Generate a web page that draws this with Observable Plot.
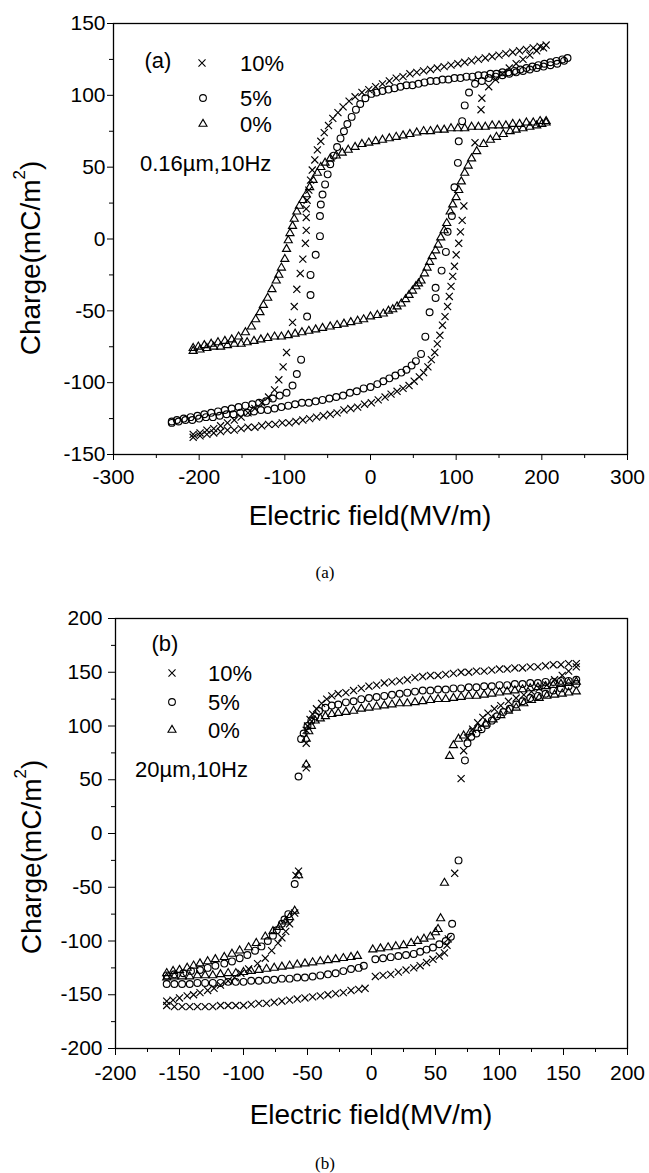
<!DOCTYPE html>
<html><head><meta charset="utf-8">
<script src="https://cdn.jsdelivr.net/npm/d3@7"></script>
<script src="https://cdn.jsdelivr.net/npm/@observablehq/plot@0.6"></script>
<style>
html,body{margin:0;padding:0;background:#fff;}
body{width:649px;height:1173px;position:relative;overflow:hidden;}
#pa,#pb{position:absolute;left:0;}
#pa{top:0;} #pb{top:595px;}
</style></head><body>
<div id="pa"></div><div id="pb"></div>
<script>
// ---------- Panel (a): 0.16 µm, 10 Hz ----------
const xTicksA = [-300,-200,-100,0,100,200,300];
const xMinorA = [-250,-150,-50,50,150,250];
const yTicksA = [-150,-100,-50,0,50,100,150];
const yMinorA = [-125,-75,-25,25,75,125];

const a10 = [
 [205,135],[198,134],[190,133],[182,132],[174,131],[166,130],[158,129],[150,128],[142,127],[134,126],[126,125],[118,124],[110,123],[102,122],[94,121],[86,120],[78,119],[70,118],[62,117],[54,116],[46,115],[38,113],[30,112],[22,110],[14,108],[6,106],[-2,104],[-10,102],[-18,99],[-25,96],[-32,92],[-38,88],[-44,84],[-49,79],[-54,74],[-58,68],[-62,62],[-65,55],[-68,48],[-70,41],[-72,34],[-74,27],[-75,21],[-75,15],[-75,6],[-76,-3],[-79,-14],[-82,-24],[-86,-35],[-89,-47],[-91,-58],[-98,-79],[-102,-89],[-107,-98],[-112,-105],[-119,-110],[-127,-114],[-135,-118],[-143,-121],[-151,-124],[-159,-126],[-167,-128],[-175,-130],[-183,-132],[-191,-133],[-199,-135],[-207,-136],
 [-207,-138],[-199,-137],[-191,-136],[-183,-135],[-175,-134],[-167,-133],[-159,-133],[-151,-132],[-143,-131],[-135,-131],[-127,-130],[-119,-129],[-111,-129],[-103,-128],[-95,-128],[-87,-127],[-79,-126],[-71,-125],[-63,-124],[-55,-123],[-47,-122],[-39,-121],[-31,-119],[-23,-118],[-15,-117],[-7,-115],[1,-114],[9,-112],[17,-110],[24,-108],[31,-106],[38,-104],[45,-102],[51,-99],[57,-96],[62,-93],[67,-89],[71,-84],[75,-79],[78,-73],[81,-67],[84,-60],[87,-54],[90,-47],[92,-40],[94,-33],[96,-26],[98,-19],[100,-11],[103,-3],[105,5],[107,13],[109,23],[122,67],[129,90],[130,98],[138,106],[146,111],[154,115],[162,119],[170,122],[178,125],[186,128],[194,131],[202,133]
];
const a5 = [
 [230,126],[224,125],[217,124],[210,123],[203,122],[196,121],[189,120],[182,119],[175,118],[168,117],[161,116],[154,116],[147,115],[140,115],[133,114],[126,114],[119,113],[112,113],[105,112],[98,112],[91,111],[84,111],[77,110],[70,110],[63,109],[56,108],[49,107],[42,107],[35,106],[28,105],[21,104],[14,103],[7,102],[1,101],[-6,98],[-12,94],[-17,90],[-22,85],[-27,80],[-31,75],[-35,70],[-39,64],[-43,58],[-47,52],[-50,45],[-53,38],[-56,31],[-58,24],[-59,16],[-59,2],[-64,-11],[-70,-25],[-70,-39],[-74,-54],[-81,-84],[-86,-94],[-91,-102],[-98,-107],[-106,-109],[-114,-111],[-122,-113],[-130,-114],[-138,-115],[-146,-116],[-154,-117],[-162,-118],[-170,-119],[-178,-120],[-186,-121],[-194,-122],[-202,-123],[-210,-124],[-218,-125],[-226,-126],[-232,-127],
 [-232,-128],[-224,-127],[-216,-126],[-208,-126],[-200,-125],[-192,-124],[-184,-124],[-176,-123],[-168,-122],[-160,-122],[-152,-121],[-144,-121],[-136,-120],[-128,-119],[-120,-119],[-112,-118],[-104,-117],[-96,-116],[-88,-115],[-80,-114],[-72,-114],[-64,-113],[-56,-112],[-48,-111],[-40,-110],[-32,-109],[-24,-107],[-16,-106],[-8,-104],[0,-103],[8,-101],[15,-99],[22,-97],[29,-95],[36,-93],[42,-91],[48,-88],[53,-85],[59,-80],[64,-68],[69,-51],[76,-41],[76,-34],[83,-22],[88,-9],[90,5],[95,16],[98,36],[102,53],[103,68],[107,82],[110,93],[115,102],[122,108],[130,110],[138,112],[146,113],[154,114],[162,115],[170,116],[178,117],[186,118],[194,119],[202,120],[210,121],[218,122],[226,124]
];
const a0 = [
 [205,82],[198,82],[190,81],[182,81],[174,80],[166,80],[158,79],[150,79],[142,79],[134,78],[126,78],[118,78],[110,77],[102,77],[94,77],[86,76],[78,76],[70,75],[62,75],[54,74],[46,73],[38,72],[30,71],[22,70],[14,69],[6,68],[-2,67],[-10,66],[-18,64],[-26,62],[-33,60],[-40,58],[-47,56],[-53,53],[-58,50],[-62,46],[-67,41],[-71,36],[-75,31],[-79,27],[-83,23],[-86,19],[-89,14],[-91,9],[-94,4],[-96,-1],[-98,-7],[-100,-14],[-104,-20],[-107,-25],[-110,-29],[-115,-35],[-120,-41],[-125,-46],[-129,-51],[-134,-56],[-139,-61],[-146,-65],[-154,-68],[-162,-70],[-170,-71],[-178,-72],[-186,-73],[-194,-74],[-201,-75],[-207,-76],
 [-207,-78],[-199,-77],[-191,-76],[-183,-75],[-175,-75],[-167,-74],[-159,-73],[-151,-73],[-144,-72],[-136,-71],[-128,-70],[-120,-69],[-112,-68],[-104,-68],[-96,-67],[-88,-66],[-80,-65],[-72,-64],[-64,-63],[-56,-62],[-47,-61],[-39,-60],[-31,-59],[-23,-58],[-15,-57],[-8,-56],[0,-54],[8,-53],[15,-52],[21,-50],[26,-49],[31,-47],[36,-45],[41,-42],[45,-39],[49,-36],[53,-33],[56,-31],[59,-29],[63,-24],[66,-20],[69,-16],[72,-12],[76,-8],[79,-4],[82,1],[86,6],[89,11],[93,19],[96,24],[100,29],[103,34],[106,40],[110,46],[114,51],[118,56],[124,61],[132,66],[140,69],[147,71],[155,73],[163,75],[170,76],[178,77],[186,78],[194,79],[200,80],[205,81]
];

// ---------- Panel (b): 20 µm, 10 Hz ----------
const xTicksB = [-200,-150,-100,-50,0,50,100,150,200];
const xMinorB = [-175,-125,-75,-25,25,75,125,175];
const yTicksB = [-200,-150,-100,-50,0,50,100,150,200];
const yMinorB = [-175,-125,-75,-25,25,75,125,175];

const b10 = [
 [160,158],[154,158],[148,157],[142,157],[136,156],[130,155],[124,155],[118,154],[112,154],[106,153],[100,153],[94,152],[88,151],[82,151],[76,150],[70,150],[64,149],[58,148],[52,147],[46,147],[40,146],[34,145],[28,143],[22,142],[16,141],[10,140],[4,138],[-2,137],[-8,135],[-14,133],[-20,131],[-26,130],[-31,128],[-35,125],[-39,121],[-43,116],[-46,111],[-48,106],[-50,100],[-51,96],[-51,84],[-51,61],[-57,-35],[-59,-39],[-60,-74],[-64,-84],[-67,-91],[-70,-97],[-73,-102],[-78,-109],[-83,-116],[-89,-121],[-96,-126],[-102,-130],[-107,-134],[-112,-137],[-118,-141],[-123,-144],[-128,-146],[-134,-148],[-139,-150],[-144,-151],[-150,-153],[-155,-155],[-160,-156],
 [-160,-160],[-154,-161],[-148,-161],[-142,-161],[-136,-161],[-130,-161],[-124,-161],[-118,-160],[-112,-160],[-106,-160],[-100,-160],[-94,-159],[-88,-158],[-82,-158],[-76,-157],[-70,-156],[-64,-155],[-58,-154],[-52,-153],[-46,-152],[-40,-151],[-34,-150],[-28,-149],[-22,-148],[-16,-146],[-10,-145],[-5,-144],[3,-133],[9,-132],[15,-131],[21,-129],[27,-127],[33,-125],[38,-123],[43,-120],[48,-117],[53,-114],[57,-111],[59,-104],[60,-98],[65,-37],[70,51],[72,77],[75,89],[79,97],[83,103],[87,108],[91,112],[96,116],[101,119],[107,123],[113,126],[119,129],[125,132],[131,135],[137,138],[143,143],[149,147],[154,151],[160,155]
];
const b5 = [
 [160,143],[154,142],[148,142],[142,141],[136,141],[130,140],[124,140],[118,139],[112,139],[106,138],[100,138],[94,137],[88,137],[82,136],[76,136],[70,135],[64,135],[58,134],[52,134],[46,133],[40,133],[34,132],[28,131],[22,130],[16,129],[10,128],[4,127],[-2,126],[-8,125],[-14,123],[-20,122],[-26,120],[-31,119],[-36,117],[-41,114],[-44,109],[-47,105],[-50,100],[-53,93],[-55,88],[-57,53],[-60,-47],[-65,-75],[-68,-80],[-70,-84],[-74,-90],[-77,-95],[-81,-100],[-86,-105],[-91,-109],[-97,-113],[-103,-116],[-109,-119],[-115,-121],[-122,-123],[-128,-125],[-134,-127],[-141,-128],[-147,-130],[-154,-131],[-160,-132],
 [-160,-140],[-154,-140],[-148,-140],[-142,-140],[-136,-139],[-130,-139],[-124,-139],[-118,-139],[-112,-138],[-106,-138],[-100,-138],[-94,-137],[-88,-137],[-82,-136],[-76,-136],[-70,-135],[-64,-135],[-58,-134],[-52,-134],[-46,-133],[-40,-132],[-34,-131],[-28,-130],[-22,-128],[-16,-126],[-10,-125],[-6,-123],[3,-117],[9,-116],[15,-115],[21,-114],[27,-113],[33,-112],[38,-110],[43,-108],[48,-106],[53,-103],[58,-100],[62,-96],[63,-84],[68,-25],[73,68],[75,84],[78,90],[82,93],[86,97],[90,101],[94,105],[98,109],[103,113],[108,116],[113,120],[118,123],[124,126],[130,128],[136,130],[142,133],[148,135],[154,137],[160,139]
];
const b0 = [
 [160,141],[154,140],[148,139],[142,138],[136,137],[130,136],[124,135],[118,134],[112,133],[106,132],[100,131],[94,130],[88,129],[82,128],[76,128],[70,127],[64,126],[58,125],[52,125],[46,124],[40,123],[34,122],[28,121],[22,121],[16,120],[10,119],[4,118],[-2,117],[-8,116],[-14,114],[-20,113],[-26,112],[-31,111],[-36,109],[-40,107],[-44,105],[-47,100],[-49,95],[-51,88],[-51,64],[-57,-39],[-60,-72],[-64,-78],[-67,-82],[-72,-87],[-77,-91],[-83,-96],[-90,-102],[-96,-106],[-103,-109],[-109,-112],[-115,-115],[-122,-117],[-128,-119],[-134,-121],[-139,-123],[-144,-125],[-150,-127],[-155,-128],[-160,-130],
 [-160,-134],[-154,-133],[-148,-133],[-142,-133],[-136,-132],[-130,-132],[-124,-132],[-118,-131],[-112,-130],[-106,-130],[-100,-129],[-94,-128],[-88,-127],[-82,-126],[-76,-125],[-70,-124],[-64,-123],[-58,-122],[-52,-121],[-46,-120],[-40,-119],[-34,-118],[-28,-117],[-22,-116],[-16,-115],[-11,-114],[1,-108],[7,-107],[13,-106],[19,-105],[25,-104],[31,-102],[36,-100],[41,-98],[46,-96],[50,-92],[52,-89],[54,-79],[57,-46],[61,72],[64,82],[68,88],[72,91],[77,94],[83,98],[89,102],[95,106],[101,110],[107,114],[113,117],[119,121],[125,124],[131,126],[137,128],[143,129],[149,130],[154,131],[160,132]
];

const seriesLabels = ["10%","5%","0%"];
const FONT = "'Liberation Sans', Arial, Helvetica, sans-serif";

function panel(o) {
  const dotOpts = (sym, r) => ({x: d => d[0], y: d => d[1], symbol: sym, r, fill: "none", stroke: "black", strokeWidth: 1.15});
  return Plot.plot({
    width: 649, height: o.height,
    marginTop: o.mt, marginBottom: o.mb, marginLeft: o.ml, marginRight: o.mr,
    style: {fontFamily: FONT, fontSize: "21px", color: "black", background: "white", overflow: "visible"},
    x: {domain: o.xd}, y: {domain: o.yd},
    marks: [
      Plot.axisX({ticks: o.xM, tickSize: 4, tickFormat: () => "", label: null}),
      Plot.axisX({ticks: o.xT, tickSize: o.ts, tickPadding: o.xp, tickFormat: d => String(d), label: null, fontSize: 21}),
      Plot.axisY({ticks: o.yM, tickSize: 4, tickFormat: () => "", label: null}),
      Plot.axisY({ticks: o.yT, tickSize: o.ts, tickPadding: o.yp, tickFormat: d => String(d), label: null, fontSize: 21}),
      Plot.frame({stroke: "black", strokeWidth: 1.3}),
      Plot.dot(o.s0, dotOpts("triangle", 3)),
      Plot.dot(o.s5, dotOpts("circle", 3.4)),
      Plot.dot(o.s10, dotOpts("times", 3.3))
    ]
  });
}

function decorate(svg, o) {
  const s = d3.select(svg);
  s.append("text").attr("x", o.xlx).attr("y", o.xly).attr("text-anchor", "middle")
    .attr("font-size", 28).attr("fill", "black").text("Electric field(MV/m)");
  const yl = s.append("text").attr("transform", `translate(${o.ylx},${o.yly}) rotate(-90)`)
    .attr("text-anchor", "middle").attr("dominant-baseline", "central").attr("font-size", 28).attr("fill", "black");
  yl.append("tspan").text("Charge(mC/m");
  yl.append("tspan").attr("font-size", 17).attr("dy", -11).text("2");
  yl.append("tspan").attr("dy", 11).text(")");
  // in-plot legend
  s.append("text").attr("x", o.tag[0]).attr("y", o.tag[1]).attr("text-anchor", "middle").attr("font-size", 22).text(o.tagText);
  const syms = [d3.symbolTimes, d3.symbolCircle, d3.symbolTriangle];
  const sizes = [34, 36, 28];
  seriesLabels.forEach((lab, i) => {
    const [sx, sy] = o.sym[i];
    s.append("path").attr("d", d3.symbol(syms[i], sizes[i])()).attr("transform", `translate(${sx},${sy})`)
      .attr("fill", "none").attr("stroke", "black").attr("stroke-width", 1.1);
    s.append("text").attr("x", o.labX).attr("y", sy + 7.5).attr("text-anchor", "start").attr("font-size", 22).text(lab);
  });
  s.append("text").attr("x", o.cond[0]).attr("y", o.cond[1]).attr("text-anchor", "start").attr("font-size", 22).text(o.condText);
  // caption
  s.append("text").attr("x", 325).attr("y", o.capY).attr("text-anchor", "middle")
    .attr("font-family", "'Liberation Serif', 'Times New Roman', serif").attr("font-size", 17).text(o.cap);
}

const svgA = panel({height: 595, mt: 23, mb: 141, ml: 113, mr: 22, xd: [-300,300], yd: [-150,150],
  xT: xTicksA, xM: xMinorA, yT: yTicksA, yM: yMinorA, ts: 6, xp: 9, yp: 2, s10: a10, s5: a5, s0: a0});
decorate(svgA, {xlx: 370, xly: 525, ylx: 30, yly: 258, tag: [158, 68], tagText: "(a)",
  sym: [[202,63],[203,98],[203,124]], labX: 240, cond: [140, 171], condText: "0.16\u00b5m,10Hz", capY: 578, cap: "(a)"});
document.getElementById("pa").appendChild(svgA);

const svgB = panel({height: 578, mt: 23, mb: 125, ml: 115, mr: 22, xd: [-200,200], yd: [-200,200],
  xT: xTicksB, xM: xMinorB, yT: yTicksB, yM: yMinorB, ts: 7, xp: 10, yp: 6, s10: b10, s5: b5, s0: b0});
decorate(svgB, {xlx: 371, xly: 529, ylx: 31, yly: 262, tag: [165, 56], tagText: "(b)",
  sym: [[172,78],[172,107],[172,135]], labX: 208, cond: [135, 182], condText: "20\u00b5m,10Hz", capY: 574, cap: "(b)"});
document.getElementById("pb").appendChild(svgB);
</script>
</body></html>
